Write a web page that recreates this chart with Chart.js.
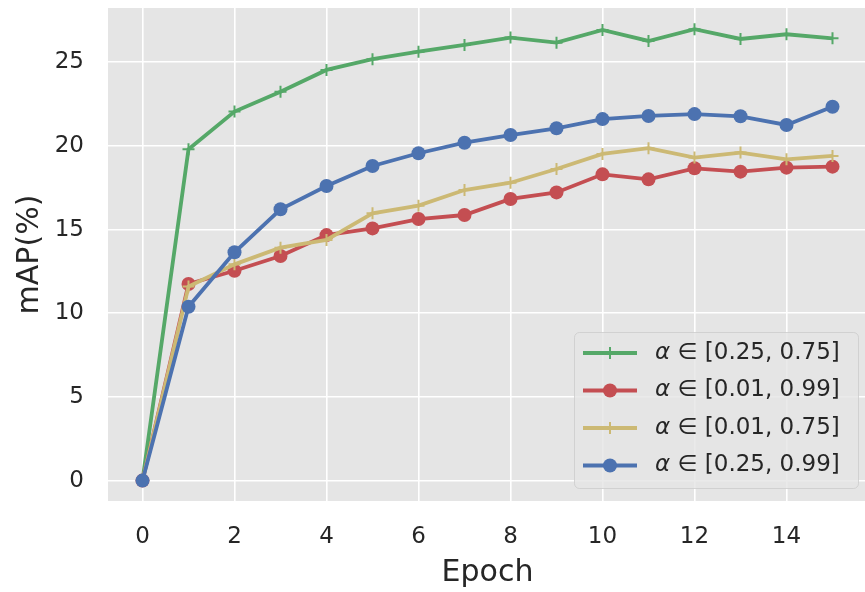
<!DOCTYPE html>
<html>
<head>
<meta charset="utf-8">
<script src="https://cdn.jsdelivr.net/npm/chart.js@4/dist/chart.umd.min.js"></script>
<style>
  html, body { margin: 0; padding: 0; background: #ffffff; overflow: hidden; }
  #wrap { position: absolute; left: 0; top: 0; width: 875px; height: 592px; }
</style>
</head>
<body>
<div id="wrap"><canvas id="c" width="875" height="592"></canvas></div>
<script>
// Training epochs and mAP (%) per alpha range
const epochs = [0, 1, 2, 3, 4, 5, 6, 7, 8, 9, 10, 11, 12, 13, 14, 15];
const map_025_075 = [0, 19.8, 22.05, 23.24, 24.54, 25.18, 25.63, 26.03, 26.47, 26.17, 26.93, 26.27, 26.97, 26.39, 26.67, 26.43];
const map_001_099 = [0, 11.75, 12.54, 13.42, 14.67, 15.07, 15.63, 15.87, 16.83, 17.22, 18.3, 18.0, 18.66, 18.46, 18.7, 18.76];
const map_001_075 = [0, 11.6, 12.92, 13.92, 14.38, 15.97, 16.43, 17.36, 17.8, 18.62, 19.52, 19.86, 19.3, 19.6, 19.2, 19.4];
const map_025_099 = [0, 10.39, 13.64, 16.21, 17.6, 18.8, 19.56, 20.19, 20.65, 21.05, 21.6, 21.79, 21.9, 21.77, 21.25, 22.34];

const seriesLabels = ['α ∈ [0.25, 0.75]', 'α ∈ [0.01, 0.99]', 'α ∈ [0.01, 0.75]', 'α ∈ [0.25, 0.99]'];
const xTicks = [0, 2, 4, 6, 8, 10, 12, 14];
const yTicks = [0, 5, 10, 15, 20, 25];

const FONT = "'DejaVu Sans', 'Liberation Sans', sans-serif";
const TEXT = '#262626';
const COLORS = ['#55a868', '#c44e52', '#ccb974', '#4c72b0'];
const MARKERS = ['cross', 'circle', 'cross', 'circle'];

function pts(vals) { return epochs.map((e, i) => ({ x: e, y: vals[i] })); }

const seriesValues = [map_025_075, map_001_099, map_001_075, map_025_099];

const datasets = seriesValues.map((vals, i) => {
  const isCross = MARKERS[i] === 'cross';
  return {
    label: seriesLabels[i],
    data: pts(vals),
    borderColor: COLORS[i],
    backgroundColor: COLORS[i],
    borderWidth: 3.8,
    pointStyle: MARKERS[i],
    pointRadius: isCross ? 6 : 7,
    pointBackgroundColor: COLORS[i],
    pointBorderColor: COLORS[i],
    pointBorderWidth: isCross ? 2 : 0,
    tension: 0,
    clip: false,
    // later series sit on top
    order: seriesValues.length - i
  };
});

// grey plotting background
const bgPlugin = {
  id: 'plotBg',
  beforeDraw(chart) {
    const { ctx, chartArea: a } = chart;
    ctx.save();
    ctx.fillStyle = '#e5e5e5';
    ctx.fillRect(a.left, a.top, a.right - a.left, a.bottom - a.top);
    ctx.restore();
  }
};

// framed legend in the lower right of the plot
const legendPlugin = {
  id: 'boxLegend',
  afterDatasetsDraw(chart) {
    const { ctx } = chart;
    const x0 = 574, y0 = 332, w = 284, h = 156, r = 5;
    ctx.save();
    ctx.beginPath();
    ctx.roundRect(x0 + 0.5, y0 + 0.5, w, h, r);
    ctx.fillStyle = 'rgba(229,229,229,0.8)';
    ctx.fill();
    ctx.strokeStyle = 'rgba(204,204,204,0.8)';
    ctx.lineWidth = 1;
    ctx.stroke();

    const rowY0 = 353, rowStep = 37.5;
    chart.data.datasets.forEach((ds, i) => {
      const cy = rowY0 + i * rowStep;
      ctx.strokeStyle = ds.borderColor;
      ctx.lineWidth = ds.borderWidth;
      ctx.lineCap = 'butt';
      ctx.beginPath();
      ctx.moveTo(583, cy);
      ctx.lineTo(637, cy);
      ctx.stroke();
      const mx = 610;
      if (ds.pointStyle === 'circle') {
        ctx.fillStyle = ds.borderColor;
        ctx.beginPath();
        ctx.arc(mx, cy, ds.pointRadius, 0, Math.PI * 2);
        ctx.fill();
      } else {
        ctx.lineWidth = ds.pointBorderWidth;
        ctx.beginPath();
        ctx.moveTo(mx, cy - ds.pointRadius);
        ctx.lineTo(mx, cy + ds.pointRadius);
        ctx.stroke();
      }
      // italic alpha followed by the interval
      const label = ds.label;
      const head = label.charAt(0);
      const tail = label.slice(1);
      ctx.fillStyle = TEXT;
      ctx.textBaseline = 'middle';
      ctx.textAlign = 'left';
      ctx.font = 'italic 23px ' + FONT;
      ctx.fillText(head, 655, cy);
      const hw = ctx.measureText(head).width;
      ctx.font = '23px ' + FONT;
      ctx.fillText(tail, 655 + hw, cy);
    });
    ctx.restore();
  }
};

new Chart(document.getElementById('c'), {
  type: 'line',
  data: { datasets },
  options: {
    responsive: false,
    animation: false,
    devicePixelRatio: 1,
    layout: { padding: { top: 8, right: 5, left: 0, bottom: 0 } },
    plugins: {
      legend: { display: false },
      tooltip: { enabled: false }
    },
    scales: {
      x: {
        type: 'linear',
        min: -0.75,
        max: 15.75,
        afterBuildTicks(scale) { scale.ticks = xTicks.map(v => ({ value: v })); },
        afterFit(scale) {
          scale.height = 91;
          scale.paddingLeft = 0;
          scale.paddingRight = 0;
        },
        ticks: {
          color: TEXT,
          font: { family: FONT, size: 23 },
          padding: 22,
          maxRotation: 0,
          autoSkip: false,
          callback: v => String(v)
        },
        grid: { color: '#ffffff', lineWidth: 1.6, drawTicks: false, tickLength: 0 },
        border: { display: false },
        title: {
          display: true,
          text: 'Epoch',
          color: TEXT,
          font: { family: FONT, size: 30 },
          padding: { top: 0, bottom: 1 }
        }
      },
      y: {
        type: 'linear',
        min: -1.22,
        max: 28.24,
        afterBuildTicks(scale) { scale.ticks = yTicks.map(v => ({ value: v })); },
        afterFit(scale) {
          scale.width = 108;
          scale.paddingTop = 0;
          scale.paddingBottom = 0;
        },
        ticks: {
          color: TEXT,
          font: { family: FONT, size: 23 },
          padding: 24,
          autoSkip: false,
          callback: v => String(v)
        },
        grid: { color: '#ffffff', lineWidth: 1.6, drawTicks: false, tickLength: 0 },
        border: { display: false },
        title: {
          display: true,
          text: 'mAP(%)',
          color: TEXT,
          font: { family: FONT, size: 30 },
          padding: { top: 12, bottom: 0 }
        }
      }
    }
  },
  plugins: [bgPlugin, legendPlugin]
});
</script>
</body>
</html>
